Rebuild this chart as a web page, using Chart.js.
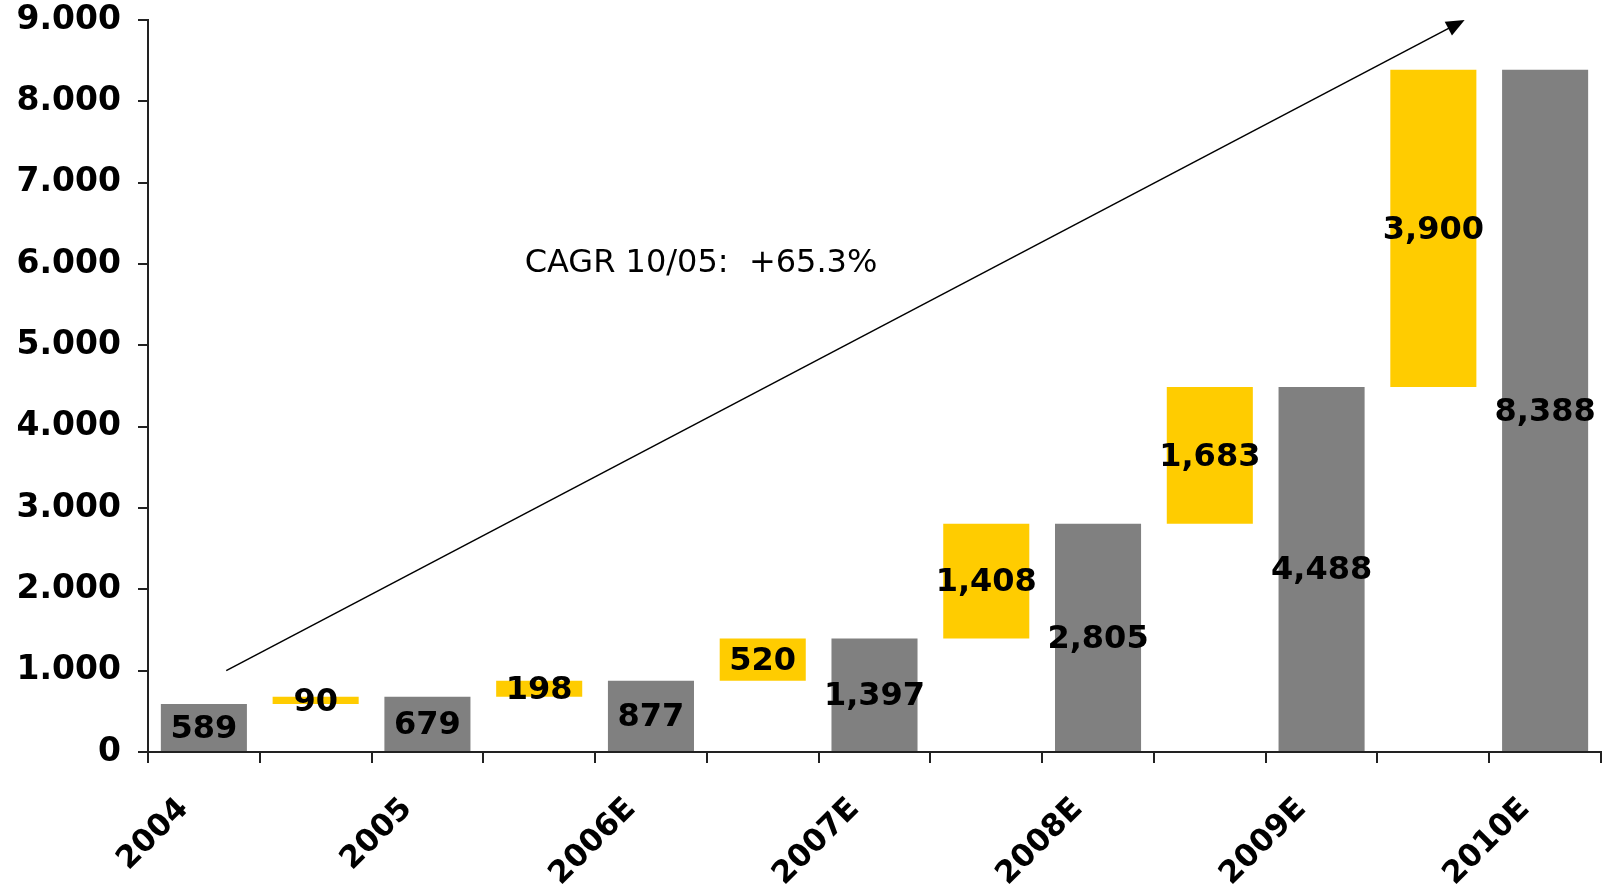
<!DOCTYPE html>
<html>
<head>
<meta charset="utf-8">
<script src="https://cdn.jsdelivr.net/npm/chart.js@4.4.1/dist/chart.umd.min.js"></script>
<style>
  html, body { margin: 0; padding: 0; background: #fff; }
  canvas { display: block; }
</style>
</head>
<body>
<canvas id="waterfallChart" width="1608" height="888"></canvas>
<script>
// Chart data
const categories = ['2004', '', '2005', '', '2006E', '', '2007E', '', '2008E', '', '2009E', '', '2010E'];
const totals = [589, 679, 877, 1397, 2805, 4488, 8388];
const increments = [90, 198, 520, 1408, 1683, 3900];
const yTicks = [0, 1000, 2000, 3000, 4000, 5000, 6000, 7000, 8000, 9000];
const cagrText = 'CAGR 10/05:  +65.3%';
const arrowFrom = [0.2, 1000];
const arrowTo = [11.28, 9000];
const cagrPos = [2.87, 6000];

const GRAY = '#808080';
const YELLOW = '#ffcc00';
const FONT = "'DejaVu Sans', Verdana, sans-serif";

// Build floating bars: total, step, total, step, ...
const bars = [];
const barColors = [];
const barValues = [];
totals.forEach((t, i) => {
    bars.push([0, t]);
    barColors.push(GRAY);
    barValues.push(t);
    if (i < increments.length) {
        bars.push([t, t + increments[i]]);
        barColors.push(YELLOW);
        barValues.push(increments[i]);
    }
});

// Value labels centered in each bar
const valueLabels = {
    id: 'valueLabels',
    afterDatasetsDraw(chart) {
        const ctx = chart.ctx;
        const meta = chart.getDatasetMeta(0);
        ctx.save();
        ctx.font = 'bold 32px ' + FONT;
        ctx.fillStyle = '#000';
        ctx.textAlign = 'center';
        ctx.textBaseline = 'middle';
        meta.data.forEach((bar, i) => {
            const yMid = (bar.y + bar.base) / 2;
            ctx.fillText(barValues[i].toLocaleString('en-US'), bar.x, yMid + 2);
        });
        ctx.restore();
    }
};

// CAGR arrow and text
const cagrArrow = {
    id: 'cagrArrow',
    afterDraw(chart) {
        const ctx = chart.ctx;
        const x = chart.scales.x;
        const y = chart.scales.y;
        const x1 = x.getPixelForValue(arrowFrom[0]), y1 = y.getPixelForValue(arrowFrom[1]);
        const x2 = x.getPixelForValue(arrowTo[0]), y2 = y.getPixelForValue(arrowTo[1]);
        const ang = Math.atan2(y2 - y1, x2 - x1);
        const head = 20;
        ctx.save();
        ctx.strokeStyle = '#000';
        ctx.fillStyle = '#000';
        ctx.lineWidth = 1.5;
        ctx.beginPath();
        ctx.moveTo(x1, y1);
        ctx.lineTo(x2 - Math.cos(ang) * head * 0.8, y2 - Math.sin(ang) * head * 0.8);
        ctx.stroke();
        ctx.beginPath();
        ctx.moveTo(x2, y2);
        ctx.lineTo(x2 - head * Math.cos(ang - 0.4), y2 - head * Math.sin(ang - 0.4));
        ctx.lineTo(x2 - head * Math.cos(ang + 0.4), y2 - head * Math.sin(ang + 0.4));
        ctx.closePath();
        ctx.fill();

        ctx.font = '32px ' + FONT;
        ctx.textAlign = 'left';
        ctx.textBaseline = 'middle';
        ctx.fillText(cagrText, x.getPixelForValue(cagrPos[0]), y.getPixelForValue(cagrPos[1]));
        ctx.restore();
    }
};

new Chart(document.getElementById('waterfallChart'), {
    type: 'bar',
    data: {
        labels: categories,
        datasets: [{
            data: bars,
            backgroundColor: barColors,
            borderWidth: 0,
            barPercentage: 0.77,
            categoryPercentage: 1.0
        }]
    },
    options: {
        responsive: false,
        animation: false,
        layout: {
            padding: { top: 20, right: 7, left: 0, bottom: 0 }
        },
        plugins: {
            legend: { display: false },
            tooltip: { enabled: false }
        },
        scales: {
            x: {
                grid: {
                    offset: true,
                    drawOnChartArea: false,
                    drawTicks: true,
                    tickLength: 11,
                    color: '#222',
                    lineWidth: 2
                },
                border: { color: '#222', width: 2 },
                ticks: {
                    autoSkip: false,
                    maxRotation: 45,
                    minRotation: 45,
                    labelOffset: -20,
                    padding: 28,
                    color: '#000',
                    font: { family: FONT, size: 31, weight: 'bold' }
                },
                afterFit(scale) {
                    scale.height = 136;
                    scale.paddingLeft = 0;
                    scale.paddingRight = 0;
                }
            },
            y: {
                min: 0,
                max: 9000,
                afterBuildTicks(scale) {
                    scale.ticks = yTicks.map(v => ({ value: v }));
                },
                grid: {
                    drawOnChartArea: false,
                    drawTicks: true,
                    tickLength: 10,
                    color: '#222',
                    lineWidth: 2
                },
                border: { color: '#222', width: 2 },
                ticks: {
                    padding: 17,
                    color: '#000',
                    font: { family: FONT, size: 33, weight: 'bold' },
                    callback: (v) => v.toLocaleString('de-DE')
                },
                afterFit(scale) {
                    scale.width = 148;
                    scale.paddingTop = 0;
                    scale.paddingBottom = 0;
                }
            }
        }
    },
    plugins: [valueLabels, cagrArrow]
});
</script>
</body>
</html>
